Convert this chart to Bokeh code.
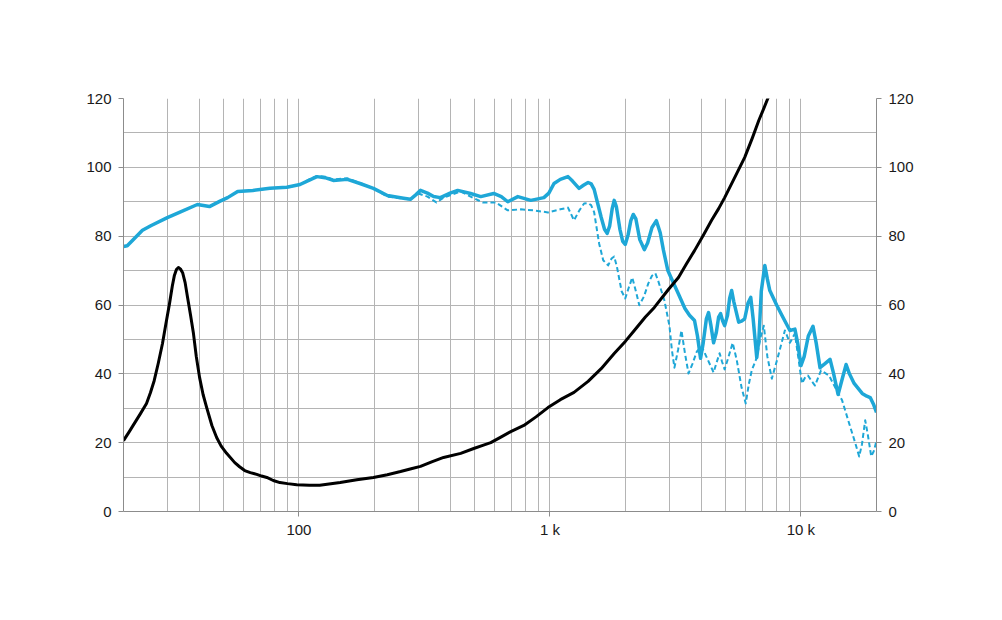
from bokeh.plotting import figure
from bokeh.models import FixedTicker, LinearAxis, Range1d
from bokeh.embed import file_html
from bokeh.resources import INLINE

# ---- data ----
spl_freq = [20, 20.7, 22.1, 23.8, 25.8, 29.9, 33.4, 39.4, 44, 48.3, 52, 57, 65.5, 76.6, 89.5,
            101, 110, 118, 127, 137, 156, 175, 198, 225, 261, 278, 292, 305, 325, 344, 366, 400,
            429, 483, 530, 597, 640, 679, 745, 839, 946, 990, 1038, 1100, 1150, 1180, 1230, 1306,
            1360, 1419, 1460, 1500, 1550, 1600, 1650, 1690, 1730, 1770, 1803, 1840, 1900, 1950,
            1995, 2050, 2100, 2148, 2200, 2280, 2377, 2450, 2550, 2655, 2750, 2831, 2950, 3048,
            3251, 3450, 3597, 3767, 3870, 3981, 4080, 4200, 4285, 4380, 4487, 4600, 4700, 4786,
            4870, 4966, 5100, 5200, 5297, 5400, 5649, 5800, 5970, 6150, 6310, 6450, 6668, 6800,
            6950, 7178, 7350, 7516, 8000, 8395, 9036, 9462, 9700, 10000, 10300, 10700, 11169,
            11500, 11912, 12400, 13062, 13500, 14060, 14600, 15136, 15600, 16293, 17539, 18300,
            18880, 19500, 20000]
spl_db = [77, 77.2, 79.3, 81.7, 83.1, 85.4, 86.9, 89.2, 88.6, 90.1, 91.2, 93, 93.3, 93.9, 94.2,
          95, 96.3, 97.3, 97, 96.2, 96.5, 95.3, 93.9, 91.8, 91, 90.7, 92, 93.3, 92.5, 91.5, 91.2, 92.5,
          93.3, 92.4, 91.5, 92.4, 91.5, 90, 91.5, 90.4, 91.2, 92.5, 95.3, 96.5, 97, 97.3, 96, 93.9,
          94.8, 95.6, 95.2, 93.6, 89.5, 85.5, 82, 80.8, 83, 88, 90.4, 88.5, 82, 78.5,
          77.6, 80.5, 84.5, 86.3, 85, 79, 76.1, 78, 82.5, 84.5, 81, 76, 70, 67.7,
          63.2, 59, 57, 55.5, 51, 44.5, 49, 56, 57.8, 54, 49, 52, 56.5, 57.5,
          55.5, 54, 57, 62, 64.2, 61, 55, 55.3, 56, 60.5, 62.2, 56, 44.7, 50,
          64, 71.5, 67.5, 64.2, 60, 57, 52.6, 53, 49, 42.4, 45, 51, 53.8,
          49, 41.8, 42.8, 44.2, 40, 34, 38.5, 42.7, 40, 37.2, 34.3, 33.5,
          33.1, 31, 28.8]

off_freq = [20, 20.7, 22.1, 23.8, 25.8, 29.9, 33.4, 39.4, 44, 48.3, 52, 57, 65.5, 76.6, 89.5,
            101, 110, 118, 127, 137, 156, 175, 198, 225, 254, 278, 299, 325, 353, 377, 441, 483,
            540, 608, 679, 766, 863, 982, 1100, 1180, 1247, 1310, 1368, 1420, 1459, 1500, 1530,
            1570, 1630, 1706, 1760, 1803, 1850, 1930, 1995, 2060, 2128, 2200, 2270, 2370, 2466,
            2550, 2630, 2700, 2858, 2992, 3060, 3133, 3240, 3342, 3450, 3565, 3700, 3850, 4018,
            4200, 4487, 4600, 4742, 4850, 4966, 5150, 5346, 5550, 5800, 6026, 6200, 6368, 6668,
            6900, 7112, 7350, 7656, 8100, 8630, 9036, 9462, 9750, 10093, 10400, 10666, 11000,
            11376, 12023, 12942, 13700, 14588, 15500, 16444, 17061, 17500, 18030, 18500, 19055,
            19500, 20000]
off_db = [77, 77.2, 79.3, 81.7, 83.1, 85.4, 86.9, 89.2, 88.6, 90.1, 91.2, 93, 93.3, 93.9, 94.2,
          95, 96.5, 97.5, 97.3, 96.5, 96.8, 95.5, 93.9, 91.5, 91, 90.7, 92.4, 91.5, 89.8, 91.2, 93, 91.5,
          89.8, 89.8, 87.5, 87.8, 87.5, 86.9, 87.8, 88.3, 84.6, 87.5, 89.5, 89.6, 89, 87, 83,
          77.9, 73, 71.5, 73.5, 74.1, 71, 64, 61.9, 65, 68, 64, 59.9, 62.5, 66.3,
          68.5, 69.2, 67, 61.3, 54, 47, 41.8, 47, 52.6, 46, 40.1, 43, 46.5, 48,
          45, 40.4, 43, 46, 43.5, 41.3, 45, 49, 44, 36, 31.4, 37, 41, 44.7,
          50.5, 54, 45, 38.6, 45, 52.6, 49, 51.7, 45, 37.2, 39, 39.5, 38,
          36.6, 41, 39.5, 36, 32.3, 26, 20, 16, 19.5, 26.5, 22, 16,
          17.5, 20.5]

imp_freq = [20, 21, 22.1, 23.3, 24.7, 25.6, 26.5, 27.5, 28.6, 29.5, 30.5, 31.3, 31.9, 32.5, 33.1,
            33.7, 34.4, 35.2, 36, 37, 38, 39, 40.2, 41.5, 42.9, 45, 47, 49, 51.5, 55.5, 58,
            60.8, 64, 67.9, 71, 74.5, 79, 84, 90, 98, 110, 121, 146, 170, 198, 225, 254, 280,
            305, 340, 377, 441, 497, 540, 581, 640, 698, 787, 880, 982, 1100, 1247, 1330, 1419,
            1600, 1803, 2000, 2168, 2400, 2606, 2965, 3251, 3500, 3767, 4100, 4406, 4700, 4966,
            5400, 5970, 6400, 6792, 7100, 7379, 7800]
imp_val = [20.6, 23, 25.6, 28.3, 31.4, 34.5, 38, 43, 48.8, 54.5, 60.4, 65.5, 68.6, 70.3, 70.9,
           70.5, 69.4, 66.5, 62.2, 57, 51.7, 45, 38.9, 34, 30.2, 25, 21.5, 19, 16.9, 14.2, 13,
           11.9, 11.3, 10.8, 10.3, 9.9, 9, 8.4, 8.1, 7.8, 7.6, 7.6, 8.4, 9.2, 9.9, 10.7, 11.6, 12.4,
           13.1, 14.5, 15.7, 16.9, 18.3, 19.2, 20, 21.7, 23.2, 25, 27.5, 30.2, 32.5, 34.6, 36.2, 37.8,
           41.5, 45.9, 49.5, 52.6, 56.5, 59.3, 64.5, 68, 72, 75.8, 80.5, 84.6, 88, 91.2,
           96.5, 102.9, 108.5, 113.6, 117, 120, 124]

x_ticks = [100, 1000, 10000]
x_tick_labels = {100: "100", 1000: "1 k", 10000: "10 k"}
y_ticks = [0, 20, 40, 60, 80, 100, 120]

BLUE = "#1ea7d7"
GRID = "#b4b4b4"
AXIS = "#8c8c8c"
TXT = "#1a1a1a"
FONT = "Liberation Sans"

p = figure(width=1000, height=610, x_axis_type="log",
           x_range=Range1d(20, 20000), y_range=Range1d(0, 120),
           output_backend="svg", toolbar_location=None,
           min_border_left=123, min_border_right=124, min_border_top=98, min_border_bottom=99)
p.outline_line_color = None
p.background_fill_color = "white"
p.border_fill_color = "white"

xgrid_ticks = []
for d in [10, 100, 1000, 10000]:
    for m in range(1, 10):
        v = d * m
        if 20 <= v <= 20000:
            xgrid_ticks.append(v)
p.xgrid[0].ticker = FixedTicker(ticks=xgrid_ticks)
p.ygrid[0].ticker = FixedTicker(ticks=list(range(0, 130, 10)))
for g in (p.xgrid[0], p.ygrid[0]):
    g.grid_line_color = GRID
    g.grid_line_width = 1

xa = p.xaxis[0]
xa.ticker = FixedTicker(ticks=x_ticks)
xa.major_label_overrides = x_tick_labels
xa.minor_tick_line_color = None

ra = LinearAxis(ticker=FixedTicker(ticks=y_ticks))
p.add_layout(ra, "right")
la = p.yaxis[0]
la.ticker = FixedTicker(ticks=y_ticks)

for ax in (xa, la, ra):
    ax.axis_line_color = AXIS
    ax.major_tick_line_color = AXIS
    ax.major_tick_out = 5
    ax.major_tick_in = 0
    ax.minor_tick_line_color = None
    ax.major_label_text_font = FONT
    ax.major_label_text_font_size = "15px"
    ax.major_label_text_color = TXT
    ax.major_label_standoff = 7
xa.major_label_standoff = 4

p.line(off_freq, off_db, line_color=BLUE, line_width=2, line_dash="5 3", line_join="round")
p.line(spl_freq, spl_db, line_color=BLUE, line_width=3.5, line_join="round")
p.line(imp_freq, imp_val, line_color="black", line_width=3, line_join="round")

open("out.html", "w").write(file_html(p, INLINE))
